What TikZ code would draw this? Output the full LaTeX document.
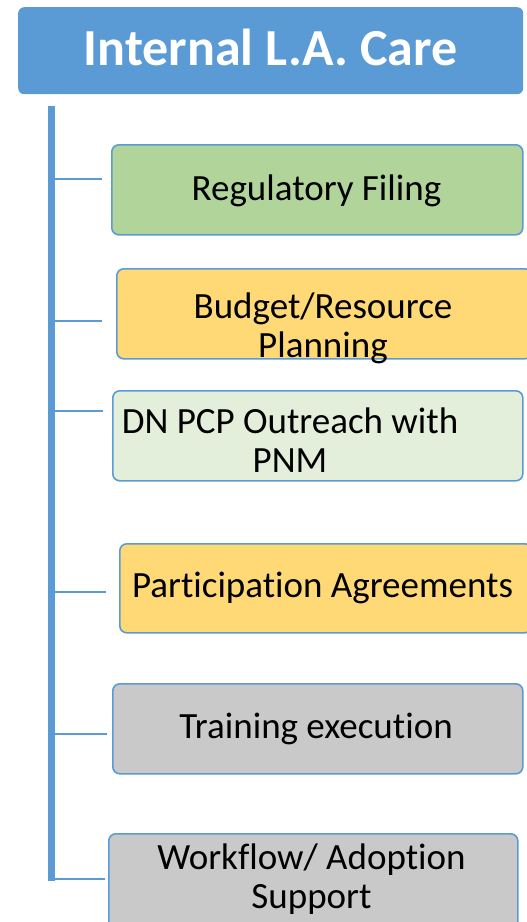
\documentclass[tikz,border=0pt]{standalone}
\usepackage{fontspec}
\setmainfont{Carlito}[RawFeature=-liga, RawFeature=-clig, RawFeature=-calt, RawFeature=-dlig]
\usepackage{tikz}
\usetikzlibrary{positioning}
\definecolor{spineColor}{HTML}{5B9BD5}
\definecolor{boxBorder}{HTML}{5B9BD5}
\definecolor{headerFill}{HTML}{5B9BD5}
\definecolor{filingGreen}{HTML}{B0D49A}
\definecolor{planYellow}{HTML}{FFD975}
\definecolor{outreachGreen}{HTML}{E3EFDB}
\definecolor{trainGray}{HTML}{C9C9C9}
\tikzstyle{chart} = [x = 1pt, y = -1pt]
\tikzstyle{headerBox} = [fill=headerFill, rounded corners = 6pt, inner sep = 0pt, anchor = north west, text = white, font = \fontsize{52}{60}\selectfont\bfseries, text depth = 7pt]
\tikzstyle{taskBox} = [draw=boxBorder, line width = 1.6pt, rounded corners = 7pt, inner sep = 0pt, anchor = north west]
\tikzstyle{taskText} = [font = \fontsize{37}{39}\selectfont, align = center, inner sep = 0pt]
\tikzstyle{spineLine} = [draw=spineColor, line width = 6.5pt]
\tikzstyle{branchLine} = [draw=spineColor, line width = 2pt]
\newcommand{\taskBox}[6]{\node [taskBox, fill=#6, minimum width = #4pt, minimum height = #5pt] (#1) at (#2, #3) {};}

\begin{document}
\begin{tikzpicture}[chart]
  \useasboundingbox (0,0) rectangle (527,922);
  \node [headerBox, minimum width = 505pt, minimum height = 87pt] (header) at (18,7) {Internal L.A. Care};

  \taskBox{regFiling}{111}{144}{411}{90}{filingGreen}
  \taskBox{budget}{116}{268}{415}{90}{planYellow}
  \taskBox{outreach}{112}{390}{410}{90}{outreachGreen}
  \taskBox{agreements}{119}{543}{412}{89}{planYellow}
  \taskBox{training}{112}{683}{410}{90}{trainGray}
  \taskBox{workflow}{108}{833}{409}{95}{trainGray}

  \node [taskText] (regFilingText) at (316.5,191) {Regulatory Filing};
  \node [taskText] (budgetText) at (323,328) {Budget/Resource\\Planning};
  \node [taskText] (outreachText) at (290,440) {DN PCP Outreach with\\PNM};
  \node [taskText] (agreementsText) at (322.5,588) {Participation Agreements};
  \node [taskText] (trainingText) at (316,729) {Training execution};
  \node [taskText] (workflowText) at (311.5,879) {Workflow/ Adoption\\Support};

  % branches from the spine
  \foreach \name/\y/\gap in {regFiling/179/9, budget/321/14, outreach/411/9, agreements/592/13, training/734/5, workflow/879/3} {
    \coordinate (\name Joint) at (51.5, \y);
    \draw [branchLine, shorten >= \gap pt] (\name Joint) -- (\name Joint -| \name.west);
  }
  \coordinate (spineTop) at (51.5,106);
  \coordinate (spineBottom) at (51.5,881);
  \draw [spineLine] (spineTop) -- (spineBottom);
\end{tikzpicture}
\end{document}
